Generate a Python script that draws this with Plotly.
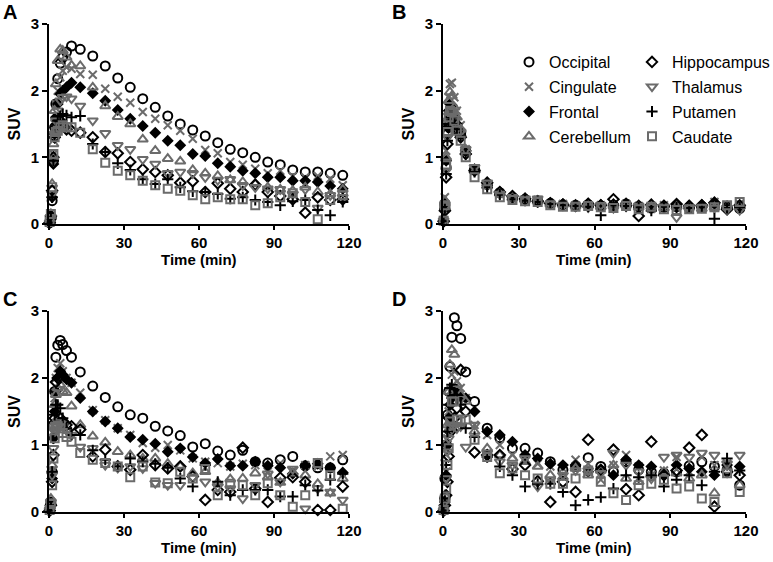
import plotly.graph_objects as go

# frame mid-times (min), shared by all four panels
time_min = [0.25, 0.75, 1.25, 1.75, 2.25, 2.75, 3.5, 4.5, 5.5, 7, 9,
            12.5, 17.5, 22.5, 27.5, 32.5, 37.5, 42.5, 47.5, 52.5, 57.5, 62.5,
            67.5, 72.5, 77.5, 82.5, 87.5, 92.5, 97.5, 102.5, 107.5, 112.5, 117.5]

regions = ["Occipital", "Cingulate", "Frontal", "Cerebellum",
           "Hippocampus", "Thalamus", "Putamen", "Caudate"]

# ---- Panel A ----
occ_A = [0.02, 0.08, 0.35, 0.95, 1.45, 1.80, 2.18, 2.41, 2.50, 2.58, 2.67,
         2.62, 2.52, 2.37, 2.19, 2.05, 1.88, 1.75, 1.62, 1.50, 1.41, 1.32,
         1.22, 1.12, 1.07, 1.00, 0.93, 0.89, 0.81, 0.78, 0.78, 0.76, 0.73]
cing_A = [0.03, 0.10, 0.45, 1.05, 1.50, 1.80, 2.00, 2.20, 2.30, 2.35, 2.33,
          2.25, 2.24, 2.03, 1.91, 1.82, 1.68, 1.58, 1.48, 1.40, 1.28, 1.11,
          1.06, 0.93, 0.89, 0.83, 0.76, 0.80, 0.72, 0.70, 0.72, 0.68, 0.58]
front_A = [0.02, 0.10, 0.40, 0.90, 1.35, 1.60, 1.80, 1.95, 2.00, 2.05, 2.12,
           2.05, 1.96, 1.85, 1.71, 1.58, 1.47, 1.37, 1.25, 1.18, 1.05, 1.02,
           0.91, 0.86, 0.80, 0.76, 0.70, 0.70, 0.65, 0.65, 0.63, 0.57, 0.53]
cereb_A = [0.03, 0.15, 0.60, 1.20, 1.70, 2.10, 2.45, 2.62, 2.60, 2.50, 2.38,
           2.37, 2.05, 1.77, 1.61, 1.50, 1.27, 1.10, 0.98, 0.94, 0.81, 0.76,
           0.72, 0.66, 0.63, 0.60, 0.55, 0.52, 0.50, 0.55, 0.48, 0.45, 0.52]
hippo_A = [0.02, 0.12, 0.50, 1.00, 1.30, 1.45, 1.50, 1.55, 1.48, 1.42, 1.40,
           1.37, 1.30, 1.08, 1.06, 0.93, 0.82, 0.78, 0.73, 0.62, 0.64, 0.48,
           0.61, 0.53, 0.48, 0.59, 0.48, 0.42, 0.37, 0.17, 0.40, 0.36, 0.37]
thal_A = [0.02, 0.10, 0.45, 0.95, 1.35, 1.55, 1.70, 1.85, 1.90, 1.91, 1.88,
          1.77, 1.55, 1.36, 1.18, 1.12, 0.97, 0.90, 0.76, 0.78, 0.76, 0.70,
          0.66, 0.67, 0.58, 0.55, 0.53, 0.52, 0.45, 0.52, 0.24, 0.43, 0.40]
put_A = [0.02, 0.08, 0.40, 0.95, 1.30, 1.45, 1.55, 1.62, 1.65, 1.63, 1.60,
         1.62, 1.20, 1.08, 0.91, 0.81, 0.67, 0.60, 0.67, 0.55, 0.49, 0.48,
         0.45, 0.38, 0.40, 0.36, 0.33, 0.28, 0.34, 0.36, 0.21, 0.13, 0.33]
caud_A = [0.03, 0.15, 0.55, 1.05, 1.30, 1.38, 1.40, 1.45, 1.48, 1.45, 1.45,
          1.37, 1.12, 0.92, 0.80, 0.73, 0.65, 0.58, 0.53, 0.50, 0.43, 0.37,
          0.40, 0.37, 0.37, 0.28, 0.31, 0.40, 0.46, 0.33, 0.07, 0.36, 0.43]

# ---- Panel B ----
occ_B = [0.05, 0.25, 0.85, 1.35, 1.55, 1.60, 1.62, 1.55, 1.45, 1.35, 1.10,
         0.82, 0.60, 0.47, 0.40, 0.37, 0.35, 0.31, 0.29, 0.28, 0.29, 0.27,
         0.28, 0.30, 0.26, 0.24, 0.25, 0.26, 0.24, 0.25, 0.27, 0.24, 0.23]
cing_B = [0.06, 0.40, 1.10, 1.60, 1.90, 2.10, 2.12, 1.90, 1.70, 1.48, 1.12,
          0.80, 0.58, 0.45, 0.38, 0.36, 0.36, 0.30, 0.30, 0.28, 0.27, 0.28,
          0.26, 0.30, 0.27, 0.23, 0.28, 0.25, 0.24, 0.26, 0.33, 0.28, 0.30]
front_B = [0.05, 0.30, 0.95, 1.45, 1.70, 1.80, 1.78, 1.60, 1.50, 1.38, 1.10,
           0.82, 0.58, 0.48, 0.40, 0.37, 0.35, 0.32, 0.30, 0.29, 0.31, 0.29,
           0.30, 0.31, 0.28, 0.27, 0.28, 0.29, 0.28, 0.29, 0.30, 0.27, 0.26]
cereb_B = [0.06, 0.35, 1.00, 1.55, 1.85, 1.98, 1.92, 1.75, 1.60, 1.42, 1.12,
           0.80, 0.57, 0.46, 0.39, 0.36, 0.34, 0.30, 0.29, 0.27, 0.28, 0.26,
           0.27, 0.28, 0.25, 0.26, 0.24, 0.26, 0.25, 0.23, 0.25, 0.24, 0.26]
hippo_B = [0.04, 0.20, 0.70, 1.20, 1.45, 1.55, 1.55, 1.48, 1.40, 1.30, 1.05,
           0.80, 0.62, 0.48, 0.42, 0.38, 0.34, 0.31, 0.29, 0.27, 0.30, 0.28,
           0.37, 0.28, 0.12, 0.29, 0.27, 0.30, 0.27, 0.28, 0.32, 0.22, 0.28]
thal_B = [0.05, 0.25, 0.80, 1.30, 1.55, 1.65, 1.65, 1.55, 1.45, 1.38, 1.12,
          0.85, 0.62, 0.45, 0.40, 0.38, 0.38, 0.30, 0.28, 0.27, 0.25, 0.28,
          0.24, 0.26, 0.27, 0.25, 0.26, 0.10, 0.24, 0.25, 0.24, 0.22, 0.21]
put_B = [0.04, 0.22, 0.75, 1.25, 1.50, 1.60, 1.60, 1.50, 1.42, 1.32, 1.05,
         0.78, 0.55, 0.44, 0.37, 0.35, 0.33, 0.30, 0.28, 0.27, 0.26, 0.13,
         0.28, 0.27, 0.25, 0.20, 0.26, 0.25, 0.24, 0.25, 0.08, 0.24, 0.25]
caud_B = [0.05, 0.28, 0.88, 1.38, 1.60, 1.70, 1.68, 1.55, 1.40, 1.25, 1.00,
          0.70, 0.52, 0.40, 0.36, 0.34, 0.33, 0.28, 0.26, 0.26, 0.27, 0.25,
          0.24, 0.27, 0.22, 0.26, 0.22, 0.21, 0.22, 0.23, 0.25, 0.28, 0.33]

# ---- Panel C ----
occ_C = [0.03, 0.15, 0.60, 1.30, 1.80, 2.31, 2.49, 2.56, 2.50, 2.41, 2.31,
         2.09, 1.88, 1.71, 1.57, 1.45, 1.40, 1.28, 1.21, 1.14, 0.97, 1.02,
         0.91, 0.85, 0.92, 0.75, 0.73, 0.78, 0.83, 0.69, 0.66, 0.66, 0.78]
cing_C = [0.03, 0.15, 0.60, 1.20, 1.70, 2.00, 2.15, 2.22, 2.10, 2.00, 1.93,
          1.78, 1.52, 1.37, 1.25, 1.15, 1.03, 0.96, 1.00, 0.92, 0.80, 0.75,
          0.73, 0.68, 0.72, 0.70, 0.60, 0.73, 0.62, 0.70, 0.68, 0.83, 0.85]
front_C = [0.03, 0.12, 0.50, 1.10, 1.50, 1.80, 2.00, 2.10, 2.05, 1.98, 1.93,
           1.70, 1.50, 1.35, 1.25, 1.12, 1.08, 1.02, 0.90, 0.95, 0.82, 0.73,
           0.79, 0.69, 0.69, 0.75, 0.69, 0.66, 0.57, 0.69, 0.72, 0.66, 0.59]
cereb_C = [0.04, 0.20, 0.70, 1.30, 1.60, 1.75, 1.85, 1.90, 1.80, 1.78, 1.58,
           1.30, 1.13, 1.04, 0.90, 0.85, 0.80, 0.80, 0.72, 0.68, 0.58, 0.60,
           0.44, 0.49, 0.50, 0.58, 0.52, 0.44, 0.58, 0.55, 0.42, 0.28, 0.50]
hippo_C = [0.02, 0.10, 0.45, 0.85, 1.40, 1.94, 2.00, 1.40, 1.35, 1.30, 1.28,
           1.23, 0.83, 0.93, 0.68, 0.63, 0.85, 0.70, 0.65, 0.68, 0.53, 0.18,
           0.33, 0.30, 0.96, 0.35, 0.15, 0.51, 0.52, 0.45, 0.03, 0.03, 0.38]
thal_C = [0.03, 0.15, 0.55, 0.95, 1.20, 1.30, 1.35, 1.32, 1.28, 1.22, 1.15,
          0.97, 0.95, 0.70, 0.66, 0.68, 0.65, 0.43, 0.40, 0.40, 0.51, 0.45,
          0.38, 0.35, 0.20, 0.40, 0.57, 0.45, 0.64, 0.05, 0.35, 0.30, 0.18]
put_C = [0.02, 0.10, 0.60, 1.10, 1.45, 1.60, 1.60, 1.55, 1.40, 1.25, 1.15,
         1.15, 0.92, 0.78, 0.68, 0.80, 0.75, 0.72, 0.66, 0.50, 0.38, 0.70,
         0.45, 0.25, 0.33, 0.33, 0.33, 0.23, 0.23, 0.40, 0.32, 0.48, 0.57]
caud_C = [0.03, 0.12, 0.40, 0.80, 1.10, 1.25, 1.28, 1.25, 1.18, 1.12, 1.05,
          0.88, 0.78, 0.73, 0.68, 0.52, 0.68, 0.44, 0.43, 0.60, 0.50, 0.64,
          0.25, 0.42, 0.40, 0.25, 0.43, 0.25, 0.08, 0.25, 0.73, 0.55, 0.05]

# ---- Panel D ----
occ_D = [0.03, 0.50, 1.00, 1.45, 1.80, 2.17, 2.61, 2.90, 2.78, 2.59, 2.09,
         1.65, 1.25, 1.11, 0.95, 0.95, 0.88, 0.75, 0.63, 0.68, 0.81, 0.68,
         0.60, 0.75, 0.63, 0.60, 0.58, 0.60, 0.69, 0.75, 0.68, 0.63, 0.40]
cing_D = [0.02, 0.15, 0.60, 1.10, 1.50, 1.80, 2.05, 2.10, 1.95, 1.85, 1.70,
          1.30, 1.15, 1.00, 0.85, 0.80, 0.72, 0.68, 0.65, 0.78, 0.72, 0.48,
          0.70, 0.85, 0.68, 0.55, 0.62, 0.82, 0.60, 0.82, 0.70, 0.72, 0.62]
front_D = [0.02, 0.15, 0.55, 1.00, 1.40, 1.60, 1.70, 1.80, 1.78, 1.72, 1.70,
           1.50, 1.20, 1.15, 1.05, 0.85, 0.80, 0.72, 0.70, 0.70, 0.60, 0.64,
           0.55, 0.78, 0.70, 0.68, 0.55, 0.70, 0.65, 0.60, 0.55, 0.70, 0.68]
cereb_D = [0.03, 0.25, 0.80, 1.30, 1.80, 2.20, 2.42, 2.35, 1.90, 1.75, 1.65,
           1.20, 0.95, 0.85, 0.80, 0.75, 0.68, 0.55, 0.52, 0.65, 0.55, 0.62,
           0.70, 0.50, 0.45, 0.55, 0.60, 0.58, 0.50, 0.55, 0.28, 0.62, 0.40]
hippo_D = [0.02, 0.10, 0.25, 0.45, 0.83, 1.20, 1.22, 1.40, 1.55, 2.12, 1.50,
           0.89, 0.85, 0.85, 0.64, 0.70, 0.46, 0.15, 0.45, 0.30, 1.08, 0.62,
           0.93, 0.34, 0.25, 1.05, 0.55, 0.62, 0.96, 1.15, 0.08, 0.60, 0.55]
thal_D = [0.02, 0.15, 0.50, 0.90, 1.10, 1.20, 1.30, 1.30, 1.25, 1.28, 0.97,
          1.30, 0.88, 0.75, 0.70, 0.80, 0.38, 0.48, 0.55, 0.62, 0.62, 0.58,
          0.88, 0.70, 0.60, 0.50, 0.82, 0.85, 0.82, 0.88, 0.85, 0.72, 0.85]
put_D = [0.02, 0.20, 0.70, 1.20, 1.60, 1.85, 1.90, 1.75, 1.70, 1.60, 1.25,
         1.12, 0.82, 0.68, 0.55, 0.38, 0.42, 0.42, 0.30, 0.10, 0.18, 0.22,
         0.35, 0.55, 0.52, 0.55, 0.38, 0.48, 0.55, 0.40, 0.60, 0.80, 0.62]
caud_D = [0.03, 0.20, 0.35, 0.70, 0.95, 1.35, 1.65, 1.65, 1.38, 1.35, 1.38,
          1.08, 0.82, 0.58, 0.65, 0.55, 0.50, 0.42, 0.42, 0.50, 0.62, 0.45,
          0.28, 0.18, 0.40, 0.42, 0.48, 0.35, 0.38, 0.20, 0.15, 0.58, 0.30]

panels = {
    "A": [occ_A, cing_A, front_A, cereb_A, hippo_A, thal_A, put_A, caud_A],
    "B": [occ_B, cing_B, front_B, cereb_B, hippo_B, thal_B, put_B, caud_B],
    "C": [occ_C, cing_C, front_C, cereb_C, hippo_C, thal_C, put_C, caud_C],
    "D": [occ_D, cing_D, front_D, cereb_D, hippo_D, thal_D, put_D, caud_D],
}

BLACK = "#000000"
GRAY = "#6b6b6b"

# marker style per region
styles = {
    "Occipital":   dict(symbol="circle-open", color=BLACK, size=9),
    "Cingulate":   dict(symbol="x-thin-open", color=GRAY, size=8),
    "Frontal":     dict(symbol="diamond", color=BLACK, size=7),
    "Cerebellum":  dict(symbol="triangle-up-open", color=GRAY, size=9),
    "Hippocampus": dict(symbol="diamond-open", color=BLACK, size=8),
    "Thalamus":    dict(symbol="triangle-down-open", color=GRAY, size=9),
    "Putamen":     dict(symbol="cross-thin-open", color=BLACK, size=8),
    "Caudate":     dict(symbol="square-open", color=GRAY, size=8),
}

axis_ids = {"A": ("x", "y"), "B": ("x2", "y2"), "C": ("x3", "y3"), "D": ("x4", "y4")}

fig = go.Figure()

for panel, series in panels.items():
    xa, ya = axis_ids[panel]
    for i, (name, values) in enumerate(zip(regions, series)):
        st = styles[name]
        fig.add_trace(go.Scatter(
            x=time_min, y=values,
            mode="markers",
            name=name,
            xaxis=xa, yaxis=ya,
            cliponaxis=False,
            legendgroup=name,
            legend="legend" if i < 4 else "legend2",
            showlegend=(panel == "A"),
            marker=dict(symbol=st["symbol"], size=st["size"], color=st["color"],
                        line=dict(color=st["color"], width=2)),
        ))

W, H = 773, 562


def fx(p):
    return p / W


def fy(p):
    return 1 - p / H


FAMILY = "Liberation Sans, Arial, sans-serif"
tick_font = dict(family=FAMILY, size=15, color=BLACK, weight="bold")
xtitle_font = dict(family=FAMILY, size=15, color=BLACK, weight="bold")

xcommon = dict(range=[0, 120], tickvals=[0, 30, 60, 90, 120], showline=True, linecolor=BLACK,
               linewidth=2, ticks="outside", ticklen=4, tickwidth=2, tickcolor=BLACK,
               showgrid=False, zeroline=False, tickfont=tick_font)
ycommon = dict(range=[0, 3], tickvals=[0, 1, 2, 3], showline=True, linecolor=BLACK,
               linewidth=2, ticks="outside", ticklen=5, tickwidth=2, tickcolor=BLACK,
               showgrid=False, zeroline=False, tickfont=tick_font,
               title=dict(text="SUV", font=dict(family=FAMILY, size=16, color=BLACK, weight="bold"),
                          standoff=6))

left = [fx(49), fx(349)]
right = [fx(443), fx(746)]
top = [fy(224), fy(24)]
bottom = [fy(512), fy(311)]

legend_font = dict(family=FAMILY, size=16, color=BLACK)

fig.update_layout(
    width=W, height=H,
    margin=dict(l=0, r=0, t=0, b=0, autoexpand=False),
    paper_bgcolor="white", plot_bgcolor="white",
    font=dict(family=FAMILY, color=BLACK),
    xaxis=dict(domain=left, anchor="y", **xcommon),
    yaxis=dict(domain=top, anchor="x", **ycommon),
    xaxis2=dict(domain=right, anchor="y2", **xcommon),
    yaxis2=dict(domain=top, anchor="x2", **ycommon),
    xaxis3=dict(domain=left, anchor="y3", **xcommon),
    yaxis3=dict(domain=bottom, anchor="x3", **ycommon),
    xaxis4=dict(domain=right, anchor="y4", **xcommon),
    yaxis4=dict(domain=bottom, anchor="x4", **ycommon),
    legend=dict(x=fx(509), y=fy(45), xanchor="left", yanchor="top",
                bgcolor="rgba(0,0,0,0)", tracegroupgap=1, font=legend_font),
    legend2=dict(x=fx(632), y=fy(45), xanchor="left", yanchor="top",
                 bgcolor="rgba(0,0,0,0)", tracegroupgap=1, font=legend_font),
)

# x-axis titles placed under each panel
for cx, cy in [(199, 259), (594, 259), (199, 547), (594, 547)]:
    fig.add_annotation(text="Time (min)", x=fx(cx), y=fy(cy), xref="paper", yref="paper",
                       showarrow=False, font=xtitle_font, xanchor="center", yanchor="middle")

# panel letters
letter_font = dict(family=FAMILY, size=20, color=BLACK, weight="bold")
for letter, (lx, ly) in {"A": (10, 12), "B": (399, 12), "C": (10, 299), "D": (399, 299)}.items():
    fig.add_annotation(text=letter, x=fx(lx), y=fy(ly), xref="paper", yref="paper",
                       showarrow=False, font=letter_font, xanchor="center", yanchor="middle")

# drop the default 8px page margin so the figure fills the window
fig.write_html("out.html", config={"displayModeBar": False},
               post_script="document.body.style.margin = '0px';")
